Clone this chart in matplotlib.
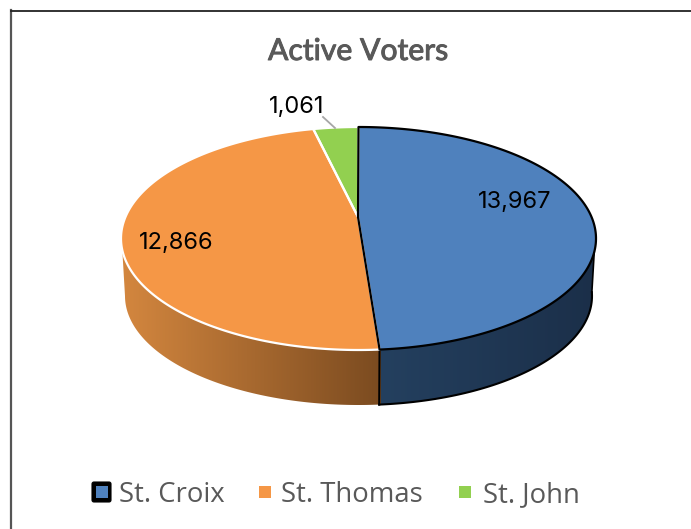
import numpy as np
import matplotlib
matplotlib.use("Agg")
import matplotlib.pyplot as plt
import matplotlib.patheffects as pe
from matplotlib.patches import Polygon, FancyBboxPatch, Rectangle

# ---- data ----
TITLE = "Active Voters"
categories = ["St. Croix", "St. Thomas", "St. John"]
values = [13967, 12866, 1061]
top_colors = ["#4F81BD", "#F59746", "#92D050"]
edge_colors = ["#000000", "#FFFFFF", "#FFFFFF"]

W, H = 691, 529
fig = plt.figure(figsize=(W / 100, H / 100), dpi=100, facecolor="white")
ax = fig.add_axes([0, 0, 1, 1])
ax.set_xlim(0, W)
ax.set_ylim(H, 0)
ax.axis("off")

# geometry of the perspective pie (pixels)
CX, CY, A, B = 358.5, 238.5, 237.5, 111.5      # top ellipse
APEX = (358.0, 217.0)                          # vanishing centre of slices
BX, BY, BA, BB = 358.5, 296.0, 233.5, 109.0    # bottom ellipse


def warp(t):
    """clockwise angle from the top -> ellipse parameter (perspective skew)"""
    r = np.radians(t)
    return t - 5.4 * np.sin(r / 2) ** 2 - 11.8 * np.sin(r)


def top_pt(phi):
    p = np.radians(phi)
    return np.column_stack([CX + A * np.sin(p), CY - B * np.cos(p)])


def bot_pt(phi):
    p = np.radians(phi)
    return np.column_stack([BX + BA * np.sin(p), BY - BB * np.cos(p)])


def gradient_side(t0, t1, b0, b1, c0, c1, x0, x1, z):
    verts = np.vstack([top_pt(np.linspace(t0, t1, 120)),
                       bot_pt(np.linspace(b1, b0, 120))])
    poly = Polygon(verts, closed=True, transform=ax.transData, fc="none", ec="none")
    ax.add_patch(poly)
    c0 = np.array(matplotlib.colors.to_rgb(c0))
    c1 = np.array(matplotlib.colors.to_rgb(c1))
    g = np.linspace(0, 1, 256)[None, :, None]
    img = c0[None, None, :] * (1 - g) + c1[None, None, :] * g
    im = ax.imshow(img, extent=(x0, x1, 420, 200), aspect="auto", zorder=z,
                   interpolation="bilinear")
    im.set_clip_path(poly)


cum = np.concatenate([[0], np.cumsum(values)]) / np.sum(values) * 360
bounds = warp(cum)
split = bounds[1]

# side walls
gradient_side(split - 2, 264, split - 2, 270, "#7B4B20", "#D4873F", 381, 121, 2)
gradient_side(97, split, 88, split, "#1B2F49", "#24405F", 596, 381, 2.5)
# black outline around the blue wall
ph = np.linspace(88, split, 100)
ax.plot(bot_pt(ph)[:, 0], bot_pt(ph)[:, 1], color="black", lw=1.5, zorder=3)
s = np.vstack([top_pt([97]), bot_pt([88])])
ax.plot(s[:, 0], s[:, 1], color="black", lw=1.2, zorder=3)
s = np.vstack([top_pt([split]), bot_pt([split])])
ax.plot(s[:, 0], s[:, 1], color="black", lw=1.5, zorder=3)

# top face
for i, (c, e) in enumerate(zip(top_colors, edge_colors)):
    ph = np.linspace(bounds[i], bounds[i + 1], 200)
    verts = np.vstack([[APEX], top_pt(ph)])
    ax.add_patch(Polygon(verts, closed=True, fc=c, ec="none", zorder=4))
# outlines: white ones first, black (St. Croix) on top
for i in [1, 2, 0]:
    ph = np.linspace(bounds[i], bounds[i + 1], 200)
    verts = np.vstack([[APEX], top_pt(ph)])
    ax.add_patch(Polygon(verts, closed=True, fc="none", ec=edge_colors[i],
                         lw=1.6, zorder=5, joinstyle="round"))

# data labels
fmt = [f"{v:,}" for v in values]
label_xy = [(515, 202), (176, 243), (297, 107)]
for txt, (x, y) in zip(fmt, label_xy):
    ax.text(x, y, txt, ha="center", va="center", fontsize=17, color="black",
            family="Inter", zorder=6)
ax.plot([323, 335], [117, 128], color="#A6A6A6", lw=1.3, zorder=6)

# title
ax.text(358, 51, TITLE, ha="center", va="center", fontsize=21.7, color="#595959",
        family="Lato", zorder=6,
        path_effects=[pe.withStroke(linewidth=0.7, foreground="#595959")])

# frame (open at the right and bottom)
ax.plot([11.5, 11.5], [10, H], color="#555555", lw=1.6, zorder=1)
ax.plot([11, W], [10.5, 10.5], color="#222222", lw=1.3, zorder=1)

# legend
marker_x = [96, 259, 459]
text_x = [119, 281, 483]
ly = 495
ax.add_patch(FancyBboxPatch((92, 482), 19, 20, boxstyle="round,pad=0,rounding_size=2",
                            fc="black", ec="black", lw=0.8, zorder=5))
for mx, tx, c, name in zip(marker_x, text_x, top_colors, categories):
    ax.add_patch(Rectangle((mx, 486), 12, 12, fc=c, ec="none", zorder=6))
    ax.text(tx, ly, name, ha="left", va="center", fontsize=19.8, color="#595959",
            family="Open Sans", zorder=6)

fig.savefig("out.png", dpi=100, facecolor="white")
